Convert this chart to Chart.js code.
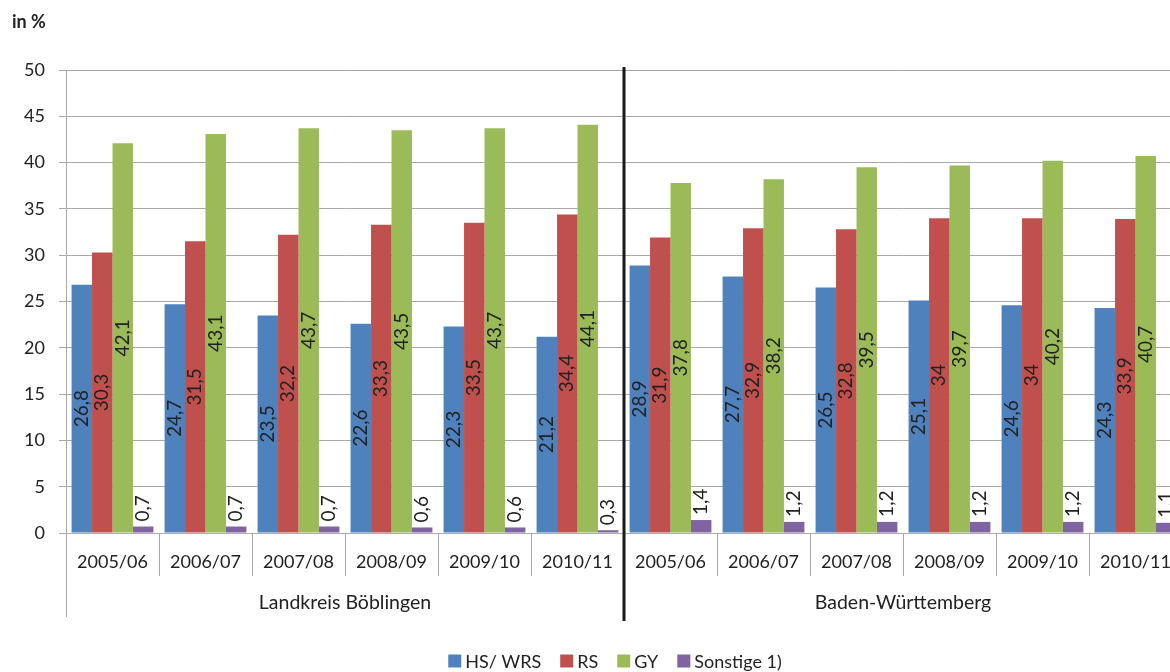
<!DOCTYPE html>
<html>
<head>
<meta charset="utf-8">
<script src="https://cdn.jsdelivr.net/npm/chart.js@4.4.1/dist/chart.umd.min.js"></script>
<style>
  html, body { margin: 0; padding: 0; background: #fff; overflow: hidden; }
  #wrap { position: absolute; left: 0; top: 0; width: 1234px; height: 672px; }
</style>
</head>
<body>
<div id="wrap"><canvas id="chart"></canvas></div>
<script>
// --- Data ---
const years = ['2005/06', '2006/07', '2007/08', '2008/09', '2009/10', '2010/11',
               '2005/06', '2006/07', '2007/08', '2008/09', '2009/10', '2010/11'];
const regions = ['Landkreis Böblingen', 'Baden-Württemberg'];

const hsWrs    = [26.8, 24.7, 23.5, 22.6, 22.3, 21.2, 28.9, 27.7, 26.5, 25.1, 24.6, 24.3];
const rs       = [30.3, 31.5, 32.2, 33.3, 33.5, 34.4, 31.9, 32.9, 32.8, 34, 34, 33.9];
const gy       = [42.1, 43.1, 43.7, 43.5, 43.7, 44.1, 37.8, 38.2, 39.5, 39.7, 40.2, 40.7];
const sonstige = [0.7, 0.7, 0.7, 0.6, 0.6, 0.3, 1.4, 1.2, 1.2, 1.2, 1.2, 1.1];

const FONT = 'Lato, "Open Sans", sans-serif';
const GRID = '#a9a9a9';

const fmt = v => String(v).replace('.', ',');

// --- Plugin: value labels, separators, group labels, legend ---
const decorations = {
  id: 'decorations',
  afterDatasetsDraw(chart) {
    const ctx = chart.ctx;
    ctx.save();
    ctx.fillStyle = '#222';
    ctx.font = '19px ' + FONT;
    chart.data.datasets.forEach((ds, di) => {
      const meta = chart.getDatasetMeta(di);
      meta.data.forEach((bar, i) => {
        const txt = fmt(ds.data[i]);
        ctx.save();
        if (di < 3) {
          ctx.translate(bar.x, (bar.y + bar.base) / 2);
          ctx.rotate(-Math.PI / 2);
          ctx.textAlign = 'center';
        } else {
          ctx.translate(bar.x, bar.y - 5);
          ctx.rotate(-Math.PI / 2);
          ctx.textAlign = 'left';
        }
        ctx.textBaseline = 'middle';
        ctx.fillText(txt, 0, 0);
        ctx.restore();
      });
    });
    ctx.restore();
  },
  afterDraw(chart) {
    const ctx = chart.ctx;
    const area = chart.chartArea;
    const n = years.length;
    const step = (area.right - area.left) / n;
    ctx.save();

    // year separators
    ctx.strokeStyle = GRID;
    ctx.lineWidth = 1;
    for (let i = 1; i < n; i++) {
      if (i === n / 2) continue;
      const px = Math.round(area.left + i * step) + 0.5;
      ctx.beginPath();
      ctx.moveTo(px, area.bottom);
      ctx.lineTo(px, area.bottom + 43);
      ctx.stroke();
    }
    // outer group separators
    [area.left, area.right].forEach(px => {
      ctx.beginPath();
      ctx.moveTo(Math.round(px) + 0.5, area.bottom);
      ctx.lineTo(Math.round(px) + 0.5, area.bottom + 84);
      ctx.stroke();
    });

    // black divider between regions
    const mid = area.left + (n / 2) * step;
    ctx.strokeStyle = '#1a1a1a';
    ctx.lineWidth = 3;
    ctx.beginPath();
    ctx.moveTo(mid, area.top - 3);
    ctx.lineTo(mid, area.bottom + 88);
    ctx.stroke();

    // region labels
    ctx.fillStyle = '#222';
    ctx.font = '19.5px ' + FONT;
    ctx.textAlign = 'center';
    ctx.textBaseline = 'middle';
    regions.forEach((r, k) => {
      const cx = area.left + (k * 6 + 3) * step;
      ctx.fillText(r, cx, area.bottom + 70);
    });

    // legend
    ctx.font = '18px ' + FONT;
    ctx.textAlign = 'left';
    const box = 13, gapIn = 4, gapOut = 19;
    const items = chart.data.datasets.map(ds => ({
      label: ds.label, color: ds.backgroundColor,
      w: box + gapIn + ctx.measureText(ds.label).width
    }));
    const total = items.reduce((s, it) => s + it.w, 0) + gapOut * (items.length - 1);
    let lx = 615 - total / 2;
    const ly = 661;
    items.forEach(it => {
      ctx.fillStyle = it.color;
      ctx.fillRect(lx, ly - box / 2, box, box);
      ctx.fillStyle = '#222';
      ctx.fillText(it.label, lx + box + gapIn, ly + 1);
      lx += it.w + gapOut;
    });

    // axis title
    ctx.font = 'bold 18px ' + FONT;
    ctx.fillText('in %', 12, 22);
    ctx.restore();
  }
};

// --- Chart ---
new Chart(document.getElementById('chart'), {
  type: 'bar',
  data: {
    labels: years,
    datasets: [
      { label: 'HS/ WRS', data: hsWrs, backgroundColor: '#4F81BD' },
      { label: 'RS', data: rs, backgroundColor: '#C0504D' },
      { label: 'GY', data: gy, backgroundColor: '#9BBB59' },
      { label: 'Sonstige 1)', data: sonstige, backgroundColor: '#8064A2' }
    ]
  },
  options: {
    responsive: true,
    maintainAspectRatio: false,
    animation: false,
    datasets: { bar: { categoryPercentage: 0.88, barPercentage: 1 } },
    layout: { padding: { top: 70, right: 52, left: 0, bottom: 32 } },
    plugins: {
      tooltip: { enabled: false },
      legend: { display: false }
    },
    scales: {
      x: {
        grid: { display: false, drawTicks: false },
        border: { display: true, color: GRID },
        ticks: {
          color: '#222', padding: 18, maxRotation: 0, autoSkip: false,
          font: { family: FONT, size: 18 }
        },
        afterFit(scale) { scale.height = 107; }
      },
      y: {
        min: 0, max: 50,
        grid: { color: GRID, tickLength: 7 },
        border: { display: true, color: GRID },
        ticks: {
          stepSize: 5, color: '#222', padding: 14,
          font: { family: FONT, size: 18 }
        },
        afterFit(scale) { scale.width = 66; }
      }
    }
  },
  plugins: [decorations]
});
</script>
</body>
</html>
